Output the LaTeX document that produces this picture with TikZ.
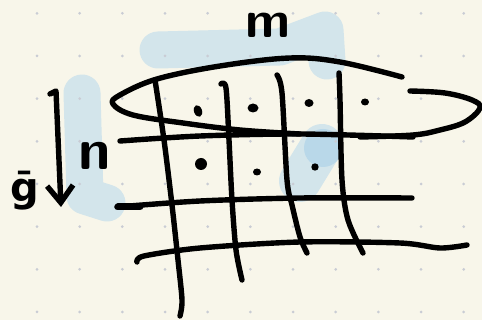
\documentclass[tikz,border=0pt]{standalone}
\usepackage{fontspec}
\usetikzlibrary{arrows.meta}
\newfontfamily\glyphfont{DejaVu Sans}

\definecolor{paper}{HTML}{F8F6EA}
\definecolor{marker}{HTML}{D3E5EB}
\definecolor{markerdeep}{HTML}{B9D8E9}
\definecolor{dotgray}{HTML}{C9CCD4}

\begin{document}
\begin{tikzpicture}[
    x=1pt, y=-1pt,
    every node/.style={font=\sffamily\bfseries, inner sep=0pt},
    ink/.style={line width=5.4pt, line cap=round, line join=round},
    highlight/.style={marker, line width=37pt, line cap=round, line join=round},
    letter/.style={font=\fontsize{52}{52}\sffamily\bfseries\selectfont},
    pen/.style={-{Straight Barb[length=17pt, width=26pt]}, ink}
]
\useasboundingbox (0,0) rectangle (482,320);
\fill[paper] (0,0) rectangle (482,320);

\draw[highlight] (158,50) -- (280,47) -- (325,30) -- (327,61);
\draw[highlight] (82,93) -- (85,196) -- (107,203);
\draw[highlight, line width=42pt] (322,145) -- (300,181);
\fill[markerdeep] (323,148) circle (19);

\foreach \i in {0,...,10}
    \foreach \j in {0,...,7}
        \fill[dotgray] ({37+42.67*\i},{13.3+42.67*\j}) circle (1.5);

\node[letter] (m) at (268,25) {m};
\node[letter, font=\fontsize{58}{58}\sffamily\bfseries\selectfont] (n) at (95,156) {n};
\node[font=\fontsize{40}{40}\glyphfont\bfseries\selectfont] (g) at (25,191) {ḡ};

\coordinate (hook) at (50,94);
\coordinate (top) at (56,91);
\coordinate (tip) at (61,207);
\draw[pen] (hook) -- (top) -- (tip);

\draw[ink] plot[smooth, tension=0.6] coordinates {(402,77) (340,62) (290,58) (220,66) (157,79) (120,95) (113,104) (133,115) (183,123) (240,130) (300,134)};
\draw[ink] plot[smooth, tension=0.6] coordinates {(410,91) (445,93) (472,100) (480,108) (465,122) (440,130) (413,135) (360,137)};

\draw[ink] plot[smooth] coordinates {(120,141) (200,136) (300,134) (413,137)};
\draw[ink] plot[smooth] coordinates {(117,207) (200,201) (300,198) (412,198)};
\draw[ink, line width=7pt] (118,207) -- (140,207);
\draw[ink] plot[smooth, tension=0.5] coordinates {(137,262) (144,256) (200,248) (300,242) (400,243) (440,248) (467,245)};

\draw[ink] plot[smooth] coordinates {(155,80) (164,140) (172,205) (178,260) (182,300) (180,316)};
\draw[ink] plot[smooth] coordinates {(221,84) (226,88) (229,140) (232,200) (236,250) (242,280)};
\draw[ink] plot[smooth] coordinates {(277,75) (282,93) (287,180) (292,205) (300,237) (307,253)};
\draw[ink] plot[smooth] coordinates {(339,73) (340,100) (342,180) (348,220) (363,253)};

\fill[rotate around={-70:(198,111)}] (198,111) ellipse (6 and 4);
\fill (253,108) ellipse (5.5 and 4.5);
\fill (309,103) ellipse (4.5 and 4);
\fill (365,102) ellipse (4 and 3.5);
\fill (201,164) circle (6);
\fill (257,172) ellipse (4 and 3.5);
\fill (315,167) circle (3.7);
\end{tikzpicture}
\end{document}
